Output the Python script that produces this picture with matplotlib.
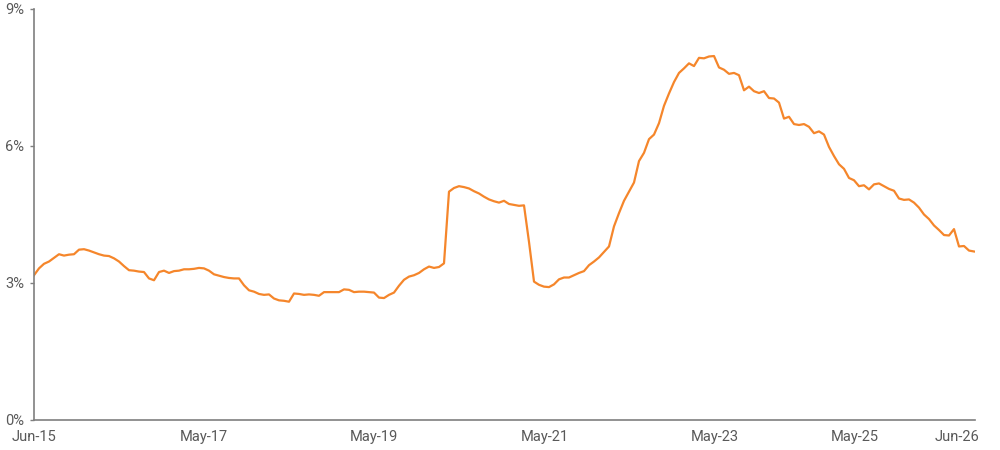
import matplotlib
matplotlib.use("Agg")
import matplotlib.pyplot as plt
from matplotlib.ticker import FuncFormatter

# leitura aproximada da curva, um ponto por passo regular do eixo
valores = [
    3.17, 3.32, 3.42, 3.47, 3.55, 3.63, 3.60, 3.62, 3.63, 3.73,
    3.74, 3.71, 3.67, 3.63, 3.60, 3.59, 3.54, 3.47, 3.37, 3.28,
    3.27, 3.25, 3.24, 3.10, 3.06, 3.24, 3.27, 3.22, 3.26, 3.27,
    3.30, 3.30, 3.31, 3.33, 3.32, 3.27, 3.19, 3.16, 3.13, 3.11,
    3.10, 3.10, 2.95, 2.84, 2.81, 2.76, 2.74, 2.75, 2.66, 2.62,
    2.61, 2.59, 2.77, 2.76, 2.74, 2.75, 2.74, 2.72, 2.80, 2.80,
    2.80, 2.80, 2.86, 2.85, 2.80, 2.81, 2.81, 2.80, 2.79, 2.68,
    2.67, 2.74, 2.79, 2.94, 3.07, 3.14, 3.17, 3.22, 3.30, 3.36,
    3.33, 3.35, 3.43, 5.00, 5.08, 5.12, 5.10, 5.07, 5.01, 4.96,
    4.89, 4.83, 4.79, 4.76, 4.80, 4.73, 4.71, 4.69, 4.70, 3.90,
    3.03, 2.96, 2.92, 2.91, 2.97, 3.08, 3.12, 3.12, 3.17, 3.22,
    3.26, 3.39, 3.47, 3.56, 3.68, 3.80, 4.24, 4.53, 4.80, 5.00,
    5.20, 5.67, 5.85, 6.15, 6.25, 6.50, 6.88, 7.15, 7.40, 7.60,
    7.70, 7.81, 7.75, 7.93, 7.92, 7.96, 7.97, 7.72, 7.67, 7.58,
    7.60, 7.55, 7.22, 7.30, 7.20, 7.16, 7.20, 7.05, 7.04, 6.95,
    6.60, 6.64, 6.48, 6.46, 6.48, 6.42, 6.28, 6.32, 6.25, 5.98,
    5.78, 5.60, 5.50, 5.30, 5.25, 5.12, 5.14, 5.05, 5.16, 5.18,
    5.12, 5.06, 5.02, 4.85, 4.82, 4.83, 4.76, 4.65, 4.50, 4.40,
    4.26, 4.16, 4.05, 4.04, 4.18, 3.80, 3.81, 3.71, 3.69,
]
rotulos_x = ["Jun-15", "May-17", "May-19", "May-21", "May-23", "May-25", "Jun-26"]
posicoes_x = [0, 34, 68, 102.2, 136.2, 164.2, 184.6]
ticks_y = [0, 3, 6, 9]

cinza = "#595959"
laranja = "#F5862B"

plt.rcParams["font.family"] = ["Roboto", "DejaVu Sans"]

fig = plt.figure(figsize=(10, 4.5), dpi=100)
ax = fig.add_axes([0.034, 0.0667, 0.941, 0.9133])

ax.plot(range(len(valores)), valores, color=laranja, linewidth=1.6)

ax.set_xlim(0, 188.2)
ax.set_ylim(0, 9)
ax.set_yticks(ticks_y)
ax.yaxis.set_major_formatter(FuncFormatter(lambda v, p: f"{v:.0f}%"))
ax.set_xticks(posicoes_x)
ax.set_xticklabels(rotulos_x)

for lado in ["top", "right"]:
    ax.spines[lado].set_visible(False)
for lado in ["left", "bottom"]:
    ax.spines[lado].set_color("#7f7f7f")
    ax.spines[lado].set_linewidth(1.2)

ax.tick_params(axis="x", length=0, pad=7, labelsize=10.5, colors=cinza)
ax.tick_params(axis="y", length=3, width=1, color="#7f7f7f", pad=4, labelsize=10.5, labelcolor=cinza)

fig.savefig("out.png", dpi=100)
